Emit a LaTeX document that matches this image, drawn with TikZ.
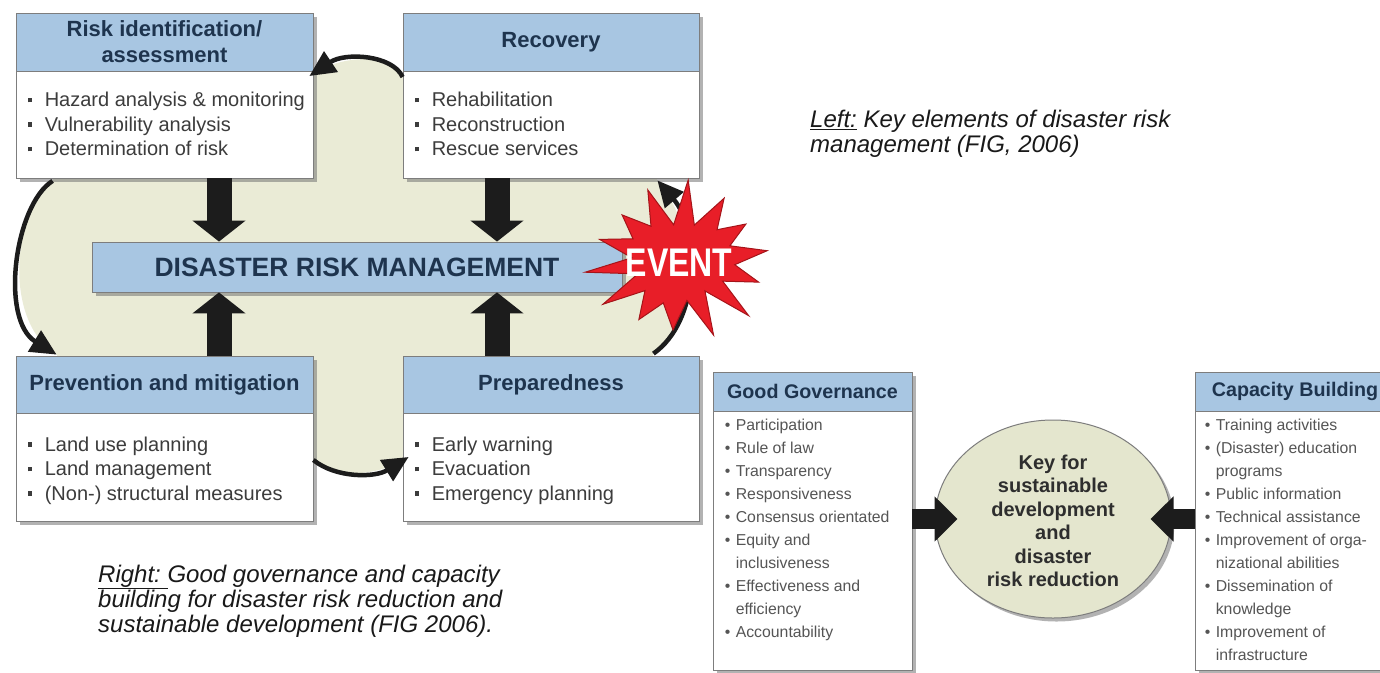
\documentclass[tikz,border=0pt]{standalone}
\usepackage{fontspec}
\setmainfont{Liberation Sans}
\usepackage{graphicx}
\usetikzlibrary{arrows.meta,shapes.geometric,shadows}
\definecolor{hdrblue}{RGB}{168,198,226}
\definecolor{navy}{RGB}{30,52,78}
\definecolor{pale}{RGB}{234,235,214}
\definecolor{ellfill}{RGB}{228,230,206}
\definecolor{boxgray}{RGB}{125,125,125}
\definecolor{txtgray}{RGB}{60,60,60}
\definecolor{txtgray2}{RGB}{85,85,85}
\definecolor{evred}{RGB}{232,30,40}
\definecolor{evdark}{RGB}{165,20,25}
\definecolor{arrowdark}{RGB}{28,28,28}
\newcommand\mysq{\makebox[17pt][l]{\raisebox{4.5pt}{\rule{4.5pt}{4.5pt}}}}
\newcommand\myitem[1]{\strut\mysq#1}
\newcommand\mydot{\makebox[11pt][l]{\textbullet}}
\newcommand\mydit[1]{\strut\mydot#1}
\newcommand\mycont[1]{\strut\hspace*{11pt}#1}
\begin{document}
\begin{tikzpicture}[x=1pt,y=-1pt,
  shad/.style={drop shadow={shadow xshift=3.5pt,shadow yshift=-3.5pt,opacity=.55,fill=black!55}},
  mybox/.style={draw=boxgray,line width=0.8pt,fill=white,inner sep=0,shad},
  myhdr/.style={draw=boxgray,line width=0.8pt,fill=hdrblue,inner sep=0,align=center,text=navy,font=\bfseries\fontsize{22}{26}\selectfont},
  myhdrb/.style={draw=boxgray,line width=0.8pt,fill=hdrblue,inner sep=0,align=center,text=navy,font=\bfseries\fontsize{19.7}{23}\selectfont},
  mybody/.style={inner sep=0,align=left,text=txtgray,font=\fontsize{20}{24.5}\selectfont},
  mybodyb/.style={inner sep=0,align=left,text=txtgray2,font=\fontsize{15.8}{23}\selectfont},
  drmbar/.style={draw=boxgray,line width=0.8pt,fill=hdrblue,inner sep=0,shad,text=navy,font=\bfseries\fontsize{26.5}{30}\selectfont},
  barrow/.style={line width=25pt,draw=arrowdark,-{Triangle[length=21pt,width=52pt]}},
  barrowb/.style={line width=20pt,draw=arrowdark,-{Triangle[length=23pt,width=44pt]}},
  carrow/.style={line width=4.5pt,draw=arrowdark,-{Triangle[length=26pt,width=24pt]}},
  capt/.style={inner sep=0,align=left,anchor=north west,text=black!90,font=\itshape\fontsize{24}{25}\selectfont}
]
\useasboundingbox (0,0) rectangle (1380,672);
\clip (0,0) rectangle (1380,672);
\fill[white] (0,0) rectangle (1380,672);

% pale background
\fill[pale] (53,181) .. controls (15,205) and (0,320) .. (57,355) -- (60,480) -- (313,480) -- (313,460)
  .. controls (335,478) and (375,478) .. (409,457) -- (409,480) -- (650,480) -- (653,354)
  .. controls (700,321) and (700,230) .. (657,180) -- (650,60) -- (403,77)
  .. controls (393,55) and (345,52) .. (309,76) -- (60,60) -- cycle;

% boxes
\node[mybox,minimum width=297,minimum height=165] (risk) at (164.5,95.5) {};
\node[myhdr,minimum width=297,minimum height=58,anchor=north] (riskh) at (risk.north) {Risk identification/\\assessment};
\node[mybody,anchor=north west] (riskb) at ([xshift=12,yshift=-76.85]risk.north west)
  {\myitem{Hazard analysis \& monitoring}\\\myitem{Vulnerability analysis}\\\myitem{Determination of risk}};

\node[mybox,minimum width=296,minimum height=165] (rec) at (551,95.5) {};
\node[myhdr,minimum width=296,minimum height=58,anchor=north] (rech) at (rec.north) {Recovery};
\node[mybody,anchor=north west] (recb) at ([xshift=12,yshift=-76.85]rec.north west)
  {\myitem{Rehabilitation}\\\myitem{Reconstruction}\\\myitem{Rescue services}};

\node[mybox,minimum width=297,minimum height=165] (prev) at (164.5,438.5) {};
\node[myhdr,minimum width=297,minimum height=57,anchor=north] (prevh) at (prev.north) {Prevention and mitigation};
\node[mybody,anchor=north west] (prevb) at ([xshift=12,yshift=-78.5]prev.north west)
  {\myitem{Land use planning}\\\myitem{Land management}\\\myitem{(Non-) structural measures}};

\node[mybox,minimum width=296,minimum height=165] (prep) at (551,438.5) {};
\node[myhdr,minimum width=296,minimum height=57,anchor=north] (preph) at (prep.north) {Preparedness};
\node[mybody,anchor=north west] (prepb) at ([xshift=12,yshift=-78.5]prep.north west)
  {\myitem{Early warning}\\\myitem{Evacuation}\\\myitem{Emergency planning}};

% central bar
\node[drmbar,minimum width=530,minimum height=50] (drm) at (357,267) {DISASTER RISK MANAGEMENT};

% block arrows
\draw[barrow] ([xshift=54.5]risk.south) -- ([xshift=54.5]risk.south |- drm.north);
\draw[barrow] ([xshift=-54]rec.south) -- ([xshift=-54]rec.south |- drm.north);
\draw[barrow] ([xshift=54.5]prev.north) -- ([xshift=54.5]prev.north |- drm.south);
\draw[barrow] ([xshift=-54]prep.north) -- ([xshift=-54]prep.north |- drm.south);

% cycle arrows
\draw[carrow] ([yshift=18.5]rec.west) .. controls +(-10,-22) and +(36,-24) .. ([xshift=-4,yshift=19.5]risk.east);
\draw[carrow] ([xshift=37,yshift=-2.5]risk.south west) .. controls +(-38,24) and +(-57,-35) .. ([xshift=41,yshift=1]prev.north west);
\draw[carrow] ([yshift=-21.5]prev.east) .. controls +(22,18) and +(-34,21) .. ([xshift=6,yshift=-18.5]prep.west);
\draw[carrow] ([xshift=-46,yshift=2]prep.north east) .. controls +(47,-33) and +(43,50) .. ([xshift=-42,yshift=-2]rec.south east);

% event star
\filldraw[fill=evred,draw=evdark,line width=1pt]
  plot[samples at={0,1,...,27},variable=\k]
  ({680+ifthenelse(mod(\k,2)==0,88,50)*(1+0.1*sin(\k*137))*cos(\k*12.857+8)},
   {261-ifthenelse(mod(\k,2)==0,74,40)*(1+0.1*sin(\k*137))*sin(\k*12.857+8)}) -- cycle;
\node[inner sep=0,text=white,font=\bfseries\fontsize{40}{40}\selectfont] (event) at (679,262.5) {\scalebox{0.8}[1]{EVENT}};

% right diagram
\node[mybox,minimum width=199,minimum height=298] (gg) at (812.5,521) {};
\node[myhdrb,minimum width=199,minimum height=39,anchor=north] (ggh) at (gg.north) {Good Governance};
\node[mybodyb,anchor=north west] (ggb) at ([xshift=12,yshift=-43]gg.north west)
  {\mydit{Participation}\\\mydit{Rule of law}\\\mydit{Transparency}\\\mydit{Responsiveness}\\
   \mydit{Consensus orientated}\\\mydit{Equity and}\\\mycont{inclusiveness}\\
   \mydit{Effectiveness and}\\\mycont{efficiency}\\\mydit{Accountability}};

\node[mybox,minimum width=200,minimum height=298] (cap) at (1295,521) {};
\node[myhdrb,minimum width=200,minimum height=39,anchor=north] (caph) at (cap.north) {Capacity Building};
\node[mybodyb,anchor=north west] (capb) at ([xshift=10,yshift=-43]cap.north west)
  {\mydit{Training activities}\\\mydit{(Disaster) education}\\\mycont{programs}\\
   \mydit{Public information}\\\mydit{Technical assistance}\\\mydit{Improvement of orga-}\\
   \mycont{nizational abilities}\\\mydit{Dissemination of}\\\mycont{knowledge}\\
   \mydit{Improvement of}\\\mycont{infrastructure}};

\node[ellipse,draw=boxgray,line width=1pt,fill=ellfill,minimum width=236,minimum height=198,inner sep=0,shad] (key) at (1053,519) {};
\node[inner sep=0,align=center,text=black!82,font=\bfseries\fontsize{20}{23.5}\selectfont] (keyt) at ([yshift=-2]key.center)
  {Key for\\sustainable\\development\\and\\disaster\\risk reduction};

\draw[barrowb] (gg.east |- key.center) -- ([xshift=23]key.west);
\draw[barrowb] (cap.west |- key.center) -- ([xshift=-21]key.east);

% captions
\node[capt] (capl) at (810,109.5) {\strut\underline{Left:} Key elements of disaster risk\\\strut management (FIG, 2006)};
\node[capt] (capr) at (98,564.5) {\strut\underline{Right:\ }Good governance and capacity\\\strut building for disaster risk reduction and\\\strut sustainable development (FIG 2006).};
\end{tikzpicture}
\end{document}
